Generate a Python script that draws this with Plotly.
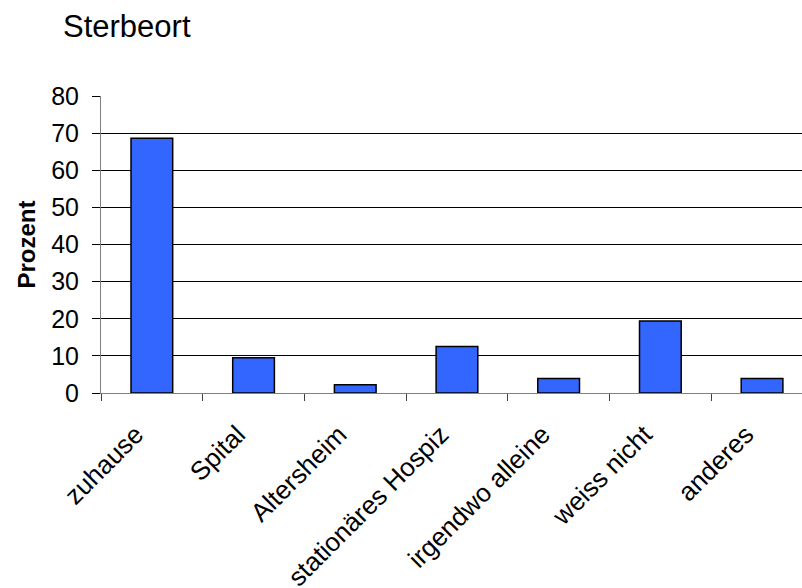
import plotly.graph_objects as go

# Sterbeort – Verteilung in Prozent
categories = ["zuhause", "Spital", "Altersheim", "stationäres Hospiz",
              "irgendwo alleine", "weiss nicht", "anderes"]
prozent = [68.6, 9.5, 2.2, 12.5, 3.9, 19.4, 3.9]
y_ticks = [0, 10, 20, 30, 40, 50, 60, 70, 80]

W, H = 802, 588
left, top, bottom = 101, 96, 195
plot_w = W - left
cat_px = 101.7  # pixel width of one category slot

FONT = "Liberation Sans, Arial, sans-serif"

fig = go.Figure(
    go.Bar(
        x=categories,
        y=prozent,
        marker=dict(color="#3366FF", line=dict(color="#000000", width=1.5)),
        width=0.41,
    )
)

fig.update_layout(
    width=W,
    height=H,
    margin=dict(l=left, r=0, t=top, b=bottom, autoexpand=False),
    paper_bgcolor="white",
    plot_bgcolor="white",
    showlegend=False,
    font=dict(family=FONT, size=25, color="#000000"),
    title=dict(
        text="Sterbeort",
        font=dict(family=FONT, size=31, color="#000000"),
        xref="container", yref="container",
        x=63 / W, xanchor="left",
        y=1 - 26 / H, yanchor="middle",
    ),
)

fig.update_xaxes(
    type="category",
    range=[-0.5, -0.5 + plot_w / cat_px],
    tickangle=-45,
    tickson="boundaries",
    ticks="outside",
    ticklen=7,
    tickcolor="#404040",
    tickwidth=1,
    ticklabelstandoff=15,
    ticklabelshift=-16,
    showline=True,
    linecolor="#808080",
    linewidth=1,
    showgrid=False,
    tickfont=dict(family=FONT, size=26, color="#000000"),
)

fig.update_yaxes(
    range=[0, 80],
    tickvals=y_ticks,
    ticks="outside",
    ticklen=8,
    tickcolor="#000000",
    tickwidth=1,
    ticklabelstandoff=8,
    showline=True,
    linecolor="#808080",
    linewidth=1,
    showgrid=True,
    gridcolor="#000000",
    gridwidth=1,
    zeroline=False,
    tickfont=dict(family=FONT, size=25, color="#000000"),
)

fig.add_annotation(
    text="<b>Prozent</b>",
    xref="paper", yref="paper",
    x=(26 - left) / plot_w, y=0.5,
    xanchor="center", yanchor="middle",
    textangle=-90,
    showarrow=False,
    font=dict(family=FONT, size=24, color="#000000"),
)

fig.write_html("out.html")
